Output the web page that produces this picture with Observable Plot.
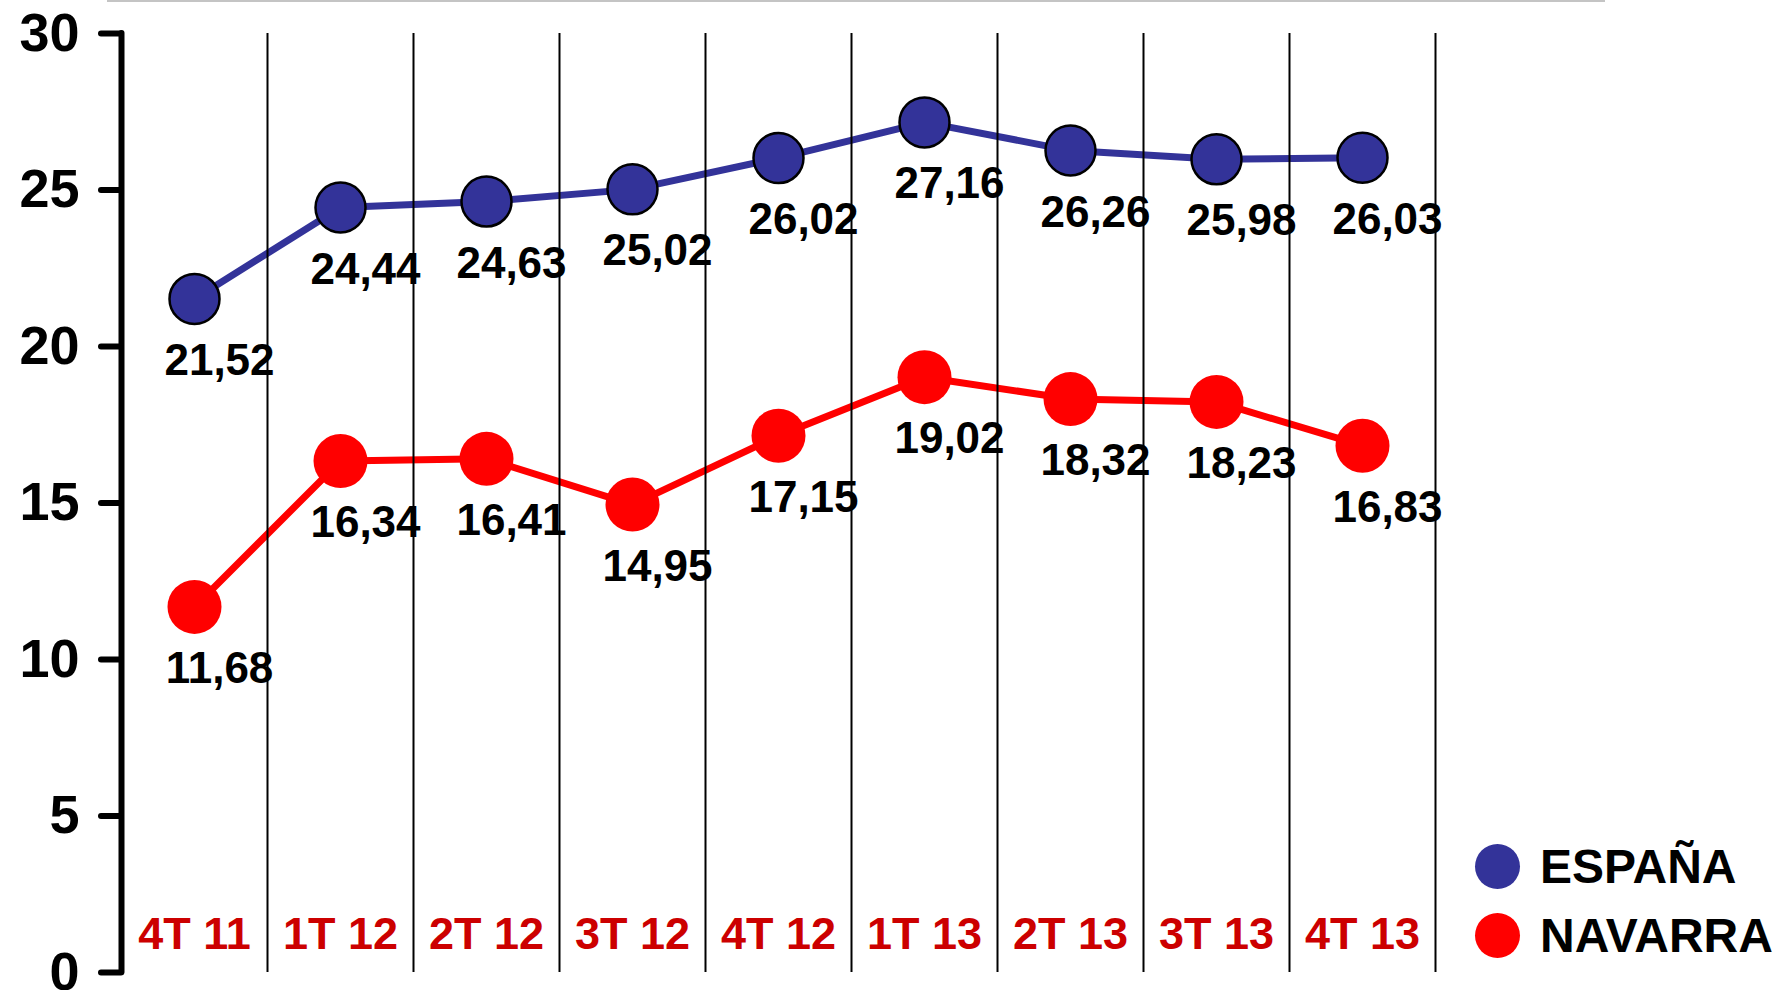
<!DOCTYPE html>
<html>
<head>
<meta charset="utf-8">
<script src="https://cdn.jsdelivr.net/npm/d3@7"></script>
<script src="https://cdn.jsdelivr.net/npm/@observablehq/plot@0.6"></script>
<style>
  html, body { margin: 0; padding: 0; background: #fff; overflow: hidden; }
  #wrap { position: relative; width: 1778px; height: 990px; font-family: "Liberation Sans", Arial, sans-serif; }
  #topline { position: absolute; left: 107px; top: 0; width: 1498px; height: 2px; background: #c4c4c4; }
  #legend { position: absolute; left: 1475px; top: 832px; font-weight: bold; font-size: 48px; color: #000; }
  .item { display: flex; align-items: center; height: 69px; }
  .sw { width: 45px; height: 45px; border-radius: 50%; margin-right: 20px; flex: none; }
</style>
</head>
<body>
<div id="wrap">
  <div id="chart"></div>
  <div id="topline"></div>
  <div id="legend"></div>
</div>
<script>
const categories = ["4T 11", "1T 12", "2T 12", "3T 12", "4T 12", "1T 13", "2T 13", "3T 13", "4T 13"];
const espana = [21.52, 24.44, 24.63, 25.02, 26.02, 27.16, 26.26, 25.98, 26.03];
const navarra = [11.68, 16.34, 16.41, 14.95, 17.15, 19.02, 18.32, 18.23, 16.83];
const yTicks = [0, 5, 10, 15, 20, 25, 30];
const seriesNames = ["ESPAÑA", "NAVARRA"];
const seriesColors = ["#333399", "#ff0000"];

const locale = d3.formatLocale({decimal: ",", thousands: ".", grouping: [3], currency: ["", "€"]});
const fmt = locale.format(".2f");

const rows = [];
[espana, navarra].forEach((vals, s) => {
  vals.forEach((v, i) => rows.push({series: seriesNames[s], i, x: i + 0.5, v}));
});
const esp = rows.filter(d => d.series === "ESPAÑA");
const nav = rows.filter(d => d.series === "NAVARRA");

const chart = Plot.plot({
  width: 1778,
  height: 990,
  marginLeft: 121,
  marginRight: 343,
  marginTop: 33,
  marginBottom: 18,
  style: {fontFamily: '"Liberation Sans", Arial, sans-serif', fontWeight: "bold", color: "#000", background: "#fff", overflow: "visible"},
  x: {domain: [0, categories.length], axis: null},
  y: {domain: [0, 30], axis: null},
  marks: [
    Plot.axisY({ticks: yTicks, label: null, tickSize: 20, tickPadding: 22, fontSize: 54, fontWeight: "bold", strokeWidth: 6, strokeLinecap: "round", tickFormat: d => String(d), fill: "#000"}),
    Plot.ruleX([0], {y1: 0, y2: 30, stroke: "#000", strokeWidth: 6, strokeLinecap: "round"}),
    Plot.line(esp, {x: "x", y: "v", stroke: seriesColors[0], strokeWidth: 7}),
    Plot.line(nav, {x: "x", y: "v", stroke: seriesColors[1], strokeWidth: 7}),
    Plot.dot(esp, {x: "x", y: "v", r: 25, fill: seriesColors[0], stroke: "#000", strokeWidth: 2.5}),
    Plot.dot(nav, {x: "x", y: "v", r: 27, fill: seriesColors[1], stroke: "none"}),
    Plot.text(rows, {x: "x", y: "v", text: d => fmt(d.v), dx: 25, dy: 62, fontSize: 44, fontWeight: "bold", fill: "#000"}),
    Plot.text(categories, {x: (d, i) => i + 0.5, text: d => d, frameAnchor: "bottom", dy: -24, fontSize: 45, fontWeight: "bold", fill: "#cc0000"}),
    Plot.ruleX(d3.range(1, categories.length + 1), {y1: 0, y2: 30, stroke: "#000", strokeWidth: 2})
  ]
});
document.getElementById("chart").appendChild(chart);

const legend = document.getElementById("legend");
seriesNames.forEach((name, k) => {
  const item = document.createElement("div");
  item.className = "item";
  const sw = document.createElement("span");
  sw.className = "sw";
  sw.style.background = seriesColors[k];
  const label = document.createElement("span");
  label.textContent = name;
  item.appendChild(sw);
  item.appendChild(label);
  legend.appendChild(item);
});
</script>
</body>
</html>
